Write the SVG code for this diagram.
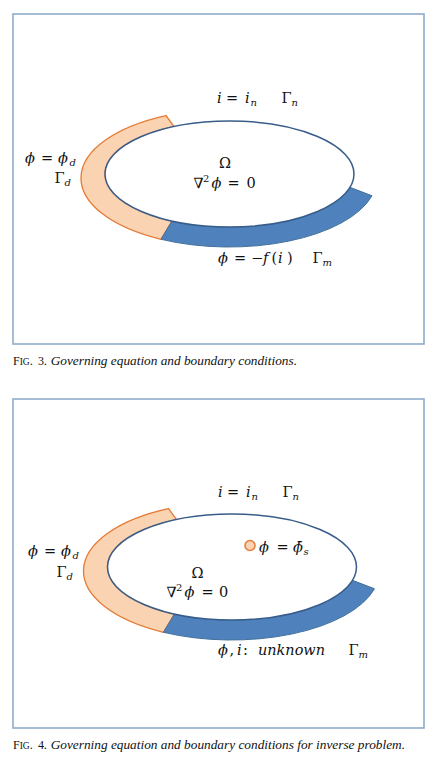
<svg xmlns="http://www.w3.org/2000/svg" width="435" height="762" viewBox="0 0 435 762">
<style>
.frame{fill:none;stroke:#8eaccb;stroke-width:1.6}
.orange{fill:#f9d3b2;stroke:#e57b35;stroke-width:1.3}
.blue{fill:#4f81bd;stroke:#41719c;stroke-width:1}
.dom{fill:#ffffff;stroke:#385d8a;stroke-width:1.5}
.m{font-family:"DejaVu Serif","Liberation Serif",serif;font-size:14.5px;fill:#111}
.it{font-style:italic}
.sub{font-size:10px;font-style:italic}
.cap{font-family:"Liberation Serif","DejaVu Serif",serif;font-size:12px;fill:#111}
.src{fill:#f9d3b2;stroke:#e57b35;stroke-width:1.5}
</style>
<defs>
<g id="ring">
<path class="orange" d="M166,115.56 A148,69 0 0 0 161,239.29 L172,221.01 A124.5,53 0 0 1 174,126.56 Z"/>
<path class="blue" d="M161,239.29 A148,69 0 0 0 372,195.78 L350,187.33 A124.5,53 0 0 1 172,221.01 Z"/>
<ellipse class="dom" cx="229.5" cy="174" rx="124.5" ry="53"/>
</g>
</defs>

<g id="fig3">
<rect id="frame3" class="frame" x="13" y="14" width="411" height="330"/>
<g id="domain3"><use href="#ring"/></g>
<g id="gamma-n-3">
<text class="m" y="103"><tspan class="it" x="217">i</tspan><tspan x="226">=</tspan><tspan class="it" x="245">i</tspan></text>
<text class="m sub" x="250.5" y="106">n</text>
<text class="m" x="281.5" y="103">Γ</text>
<text class="m sub" x="291.5" y="106">n</text>
</g>
<g id="gamma-d-3">
<text class="m" y="163"><tspan class="it" x="25">ϕ</tspan><tspan x="41">=</tspan><tspan class="it" x="58">ϕ</tspan></text>
<text class="m sub" x="69.5" y="166">d</text>
<text class="m" x="54.5" y="183">Γ</text>
<text class="m sub" x="64.5" y="186">d</text>
</g>
<g id="omega3">
<text class="m" x="225" y="168" text-anchor="middle">Ω</text>
<text class="m" y="188"><tspan x="193.5">∇</tspan><tspan x="203" y="182" font-size="10">2</tspan><tspan class="it" x="211.5" y="188">ϕ</tspan><tspan x="227.5">=</tspan><tspan x="246.5">0</tspan></text>
</g>
<g id="gamma-m-3">
<text class="m" y="263"><tspan class="it" x="218">ϕ</tspan><tspan x="234">=</tspan><tspan x="251">−</tspan><tspan class="it" x="263">f</tspan><tspan x="271.5">(</tspan><tspan class="it" x="278">i</tspan><tspan x="287">)</tspan></text>
<text class="m" x="312.5" y="263">Γ</text>
<text class="m sub" x="322.5" y="266">m</text>
</g>
<text class="cap" y="365"><tspan x="13">F</tspan><tspan font-size="9.5">IG</tspan>.<tspan x="38">3</tspan><tspan x="44" font-style="italic" textLength="253" lengthAdjust="spacingAndGlyphs">. Governing equation and boundary conditions.</tspan></text>
</g>

<g id="fig4">
<rect id="frame4" class="frame" x="13" y="399" width="411" height="329"/>
<g id="domain4"><use href="#ring" transform="translate(2.5,393)"/></g>
<g id="gamma-n-4">
<text class="m" y="497"><tspan class="it" x="218">i</tspan><tspan x="227">=</tspan><tspan class="it" x="246">i</tspan></text>
<text class="m sub" x="251.5" y="500">n</text>
<text class="m" x="282.5" y="497">Γ</text>
<text class="m sub" x="292.5" y="500">n</text>
</g>
<g id="gamma-d-4">
<text class="m" y="556"><tspan class="it" x="28">ϕ</tspan><tspan x="44">=</tspan><tspan class="it" x="61">ϕ</tspan></text>
<text class="m sub" x="72.5" y="559">d</text>
<text class="m" x="56.5" y="577">Γ</text>
<text class="m sub" x="66.5" y="580">d</text>
</g>
<g id="omega4">
<text class="m" x="197.5" y="578" text-anchor="middle">Ω</text>
<text class="m" y="597"><tspan x="166.5">∇</tspan><tspan x="176" y="591" font-size="10">2</tspan><tspan class="it" x="184.5" y="597">ϕ</tspan><tspan x="201.5">=</tspan><tspan x="219">0</tspan></text>
</g>
<g id="sensor4">
<circle class="src" cx="250" cy="545.5" r="5"/>
<text class="m" y="552"><tspan class="it" x="259">ϕ</tspan><tspan x="276.5">=</tspan><tspan class="it" x="293">ϕ̄</tspan></text>
<text class="m sub" x="303.5" y="555">s</text>
</g>
<g id="gamma-m-4">
<text class="m" y="655"><tspan class="it" x="218">ϕ</tspan><tspan x="229.5">,</tspan><tspan class="it" x="237">i</tspan><tspan x="243">:</tspan><tspan class="it" x="258" textLength="67" lengthAdjust="spacingAndGlyphs">unknown</tspan></text>
<text class="m" x="348.5" y="655">Γ</text>
<text class="m sub" x="358.5" y="658">m</text>
</g>
<text class="cap" y="749"><tspan x="13">F</tspan><tspan font-size="9.5">IG</tspan>.<tspan x="38">4</tspan><tspan x="44" font-style="italic" textLength="361" lengthAdjust="spacingAndGlyphs">. Governing equation and boundary conditions for inverse problem.</tspan></text>
</g>
</svg>
